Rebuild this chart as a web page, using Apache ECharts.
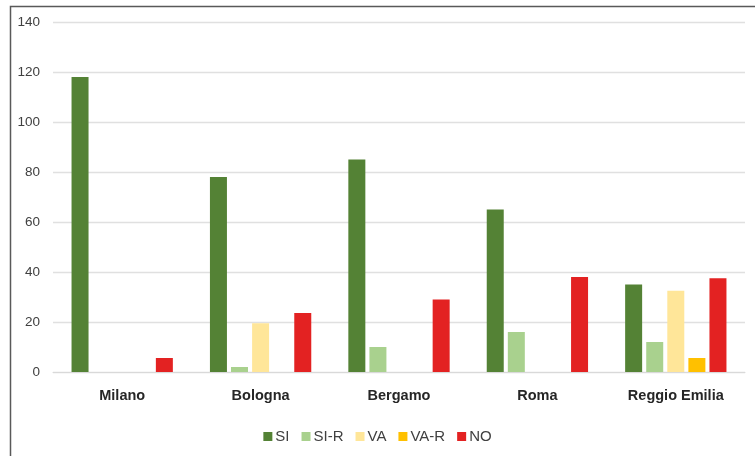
<!DOCTYPE html>
<html>
<head>
<meta charset="utf-8">
<script src="https://cdn.jsdelivr.net/npm/echarts@6/dist/echarts.min.js"></script>
<style>
  html, body { margin: 0; padding: 0; background: #fff; }
  #chart { width: 755px; height: 456px; }
</style>
</head>
<body>
<div id="chart"></div>
<script>
// Cities on the x axis
const categories = ['Milano', 'Bologna', 'Bergamo', 'Roma', 'Reggio Emilia'];

// Counts per response type
const seriesNames = ['SI', 'SI-R', 'VA', 'VA-R', 'NO'];
const valuesSI   = [118, 78, 85, 65, 35];
const valuesSIR  = [0, 2, 10, 16, 12];
const valuesVA   = [0, 19.5, 0, 0, 32.5];
const valuesVAR  = [0, 0, 0, 0, 5.6];
const valuesNO   = [5.6, 23.6, 29, 38, 37.5];

const colors = ['#548235', '#A9D18E', '#FFE699', '#FFC000', '#E32222'];
const allValues = [valuesSI, valuesSIR, valuesVA, valuesVAR, valuesNO];

const chart = echarts.init(document.getElementById('chart'), null, { renderer: 'canvas' });

const font = 'Liberation Sans, Arial, sans-serif';

chart.setOption({
  animation: false,
  backgroundColor: '#ffffff',
  graphic: [{
    type: 'rect',
    shape: { x: 10.5, y: 6.5, width: 760, height: 470 },
    style: { fill: 'none', stroke: '#595959', lineWidth: 1.5 },
    silent: true,
    z: -1
  }],
  grid: { left: 53, right: 10, top: 22, bottom: 84 },
  legend: {
    data: seriesNames,
    bottom: 7,
    left: 'center',
    itemWidth: 9,
    itemHeight: 9,
    itemGap: 12,
    icon: 'rect',
    textStyle: { fontFamily: font, fontSize: 15, color: '#404040', padding: [0, 0, 0, -2] }
  },
  xAxis: {
    type: 'category',
    data: categories,
    axisLine: { lineStyle: { color: '#d9d9d9', width: 1 } },
    axisTick: { show: false },
    axisLabel: { fontFamily: font, fontSize: 14.5, fontWeight: 'bold', color: '#262626', margin: 16 }
  },
  yAxis: {
    type: 'value',
    min: 0,
    max: 140,
    interval: 20,
    axisLine: { show: false },
    axisTick: { show: false },
    splitLine: { lineStyle: { color: '#e0e0e0', width: 1.3 } },
    axisLabel: { fontFamily: font, fontSize: 13.5, color: '#404040', margin: 13 }
  },
  series: seriesNames.map((name, i) => ({
    name: name,
    type: 'bar',
    data: allValues[i],
    barWidth: 17,
    barGap: '24%',
    itemStyle: { color: colors[i] }
  }))
});
</script>
</body>
</html>
